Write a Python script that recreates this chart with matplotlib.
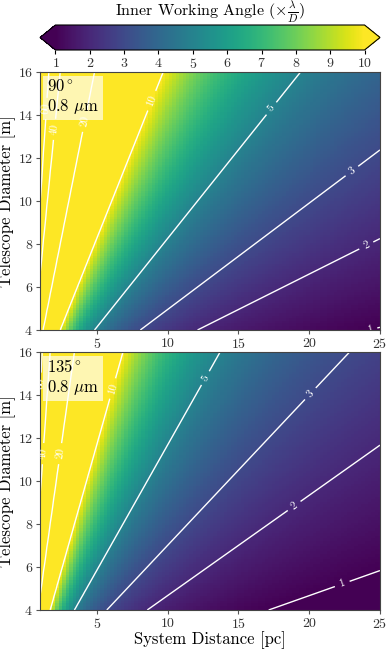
import numpy as np
import matplotlib
matplotlib.use("Agg")
import matplotlib.pyplot as plt

# Computer Modern look
plt.rcParams["font.family"] = "serif"
plt.rcParams["font.serif"] = ["cmr10"]
plt.rcParams["mathtext.fontset"] = "cm"
plt.rcParams["axes.formatter.use_mathtext"] = True

# model inputs
distances = np.linspace(1, 25, 100)      # system distance [pc]
diameters = np.linspace(4, 16, 100)      # telescope diameter [m]
phase_angles = [90, 135]                 # degrees
wavelength_um = 0.8
semi_major_au = 1.0
contour_levels = [1, 2, 3, 5, 10, 20, 40, 60]
cbar_ticks = [1, 2, 3, 4, 5, 6, 7, 8, 9, 10]

dd, DD = np.meshgrid(distances, diameters)
rad2arcsec = 206265.0

W, H = 390, 651
fig = plt.figure(figsize=(W / 100, H / 100), dpi=100)

def frac(left, top, right, bottom):
    return [left / W, 1 - bottom / H, (right - left) / W, (bottom - top) / H]

ax_top = fig.add_axes(frac(40, 72, 380, 330))
ax_bot = fig.add_axes(frac(40, 352, 380, 610))
cax = fig.add_axes(frac(40, 25, 380, 50))

for ax, phase in zip([ax_top, ax_bot], phase_angles):
    sep = semi_major_au * np.sin(np.radians(phase)) / dd          # arcsec
    lam_d = wavelength_um * 1e-6 / DD * rad2arcsec                # arcsec
    iwa = sep / lam_d
    mesh = ax.pcolormesh(distances, diameters, iwa, cmap="viridis",
                         vmin=1, vmax=10, shading="auto", rasterized=True)
    cs = ax.contour(distances, diameters, iwa, levels=contour_levels,
                    colors="white", linewidths=1.0)
    ax.clabel(cs, fmt="%d", fontsize=8, inline=True)
    ax.set_xlim(1, 25)
    ax.set_ylim(4, 16)
    ax.set_xticks([5, 10, 15, 20, 25])
    ax.set_yticks([4, 6, 8, 10, 12, 14, 16])
    ax.set_ylabel("Telescope Diameter [m]", fontsize=12)
    ax.yaxis.set_label_coords(-0.07, 0.5)
    ax.tick_params(labelsize=10, length=3, pad=2, color="#555555",
                   labelcolor="#333333")
    for s in ax.spines.values():
        s.set_color("#444444")
    ax.text(0.02, 0.975, f"${phase}^\\circ$\n$0.8\\ \\mu$m",
            transform=ax.transAxes, ha="left", va="top", fontsize=12,
            bbox=dict(facecolor="white", alpha=0.65, edgecolor="none", pad=3))

ax_bot.set_xlabel("System Distance [pc]", fontsize=12)
ax_bot.xaxis.set_label_coords(0.5, -0.082)

cb = fig.colorbar(mesh, cax=cax, orientation="horizontal", extend="both",
                  ticks=cbar_ticks)
cb.ax.tick_params(labelsize=10, length=3, pad=2, labelcolor="#333333")
fig.text(0.5 * (40 + 380) / W, 1 - 12.5 / H,
         r"Inner Working Angle ($\times\frac{\lambda}{D}$)",
         ha="center", va="center", fontsize=11.5)

fig.savefig("out.png", dpi=100)
